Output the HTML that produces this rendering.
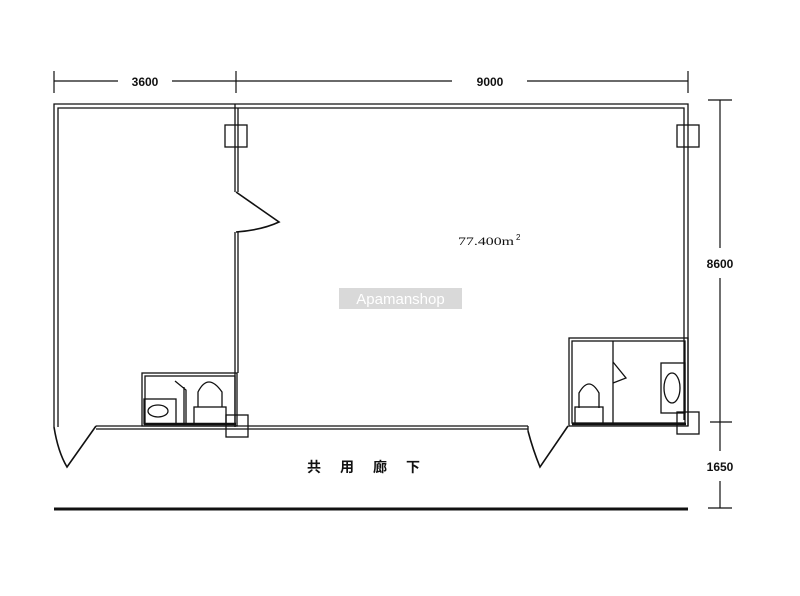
<!DOCTYPE html>
<html><head><meta charset="utf-8"><style>
body{margin:0;background:#fff;width:800px;height:596px;overflow:hidden}
svg{display:block}
text{font-family:"Liberation Sans","Noto Sans CJK JP",sans-serif;fill:#111}
</style></head><body>
<svg width="800" height="596" viewBox="0 0 800 596" xmlns="http://www.w3.org/2000/svg">
<g stroke="#111" fill="none" stroke-width="1.2">
<line x1="54" y1="81" x2="118" y2="81"/><line x1="172" y1="81" x2="236" y2="81"/>
<line x1="236" y1="81" x2="452" y2="81"/><line x1="527" y1="81" x2="688" y2="81"/>
<line x1="54" y1="71" x2="54" y2="93"/><line x1="236" y1="71" x2="236" y2="93"/><line x1="688" y1="71" x2="688" y2="93"/>
<line x1="720" y1="100" x2="720" y2="248"/><line x1="720" y1="278" x2="720" y2="451"/><line x1="720" y1="481" x2="720" y2="508"/>
<line x1="708" y1="100" x2="732" y2="100"/><line x1="710" y1="422" x2="732" y2="422"/><line x1="708" y1="508" x2="732" y2="508"/>
</g>
<g stroke="#111" fill="none" stroke-width="1.3">
<path d="M54,427 L54,104 L688,104 L688,340"/>
<path d="M58,427 L58,108 L684,108 L684,340"/>
<line x1="688" y1="340" x2="688" y2="426"/><line x1="684" y1="340" x2="684" y2="420"/>
<line x1="235" y1="104" x2="235" y2="192"/><line x1="238" y1="108" x2="238" y2="192"/>
<line x1="235" y1="232" x2="235" y2="427"/><line x1="238" y1="232" x2="238" y2="373"/>
<path d="M236,192 L279,222 Q262,230 236,232" stroke-width="1.6"/>
<line x1="96" y1="426" x2="528" y2="426"/><line x1="96" y1="429" x2="528" y2="429"/>
<line x1="528" y1="426" x2="528" y2="431"/>
<path d="M96,426 L67,467 Q58,452 54,427" stroke-width="1.6"/>
<path d="M568,426 L540,467 Q533,450 528,431" stroke-width="1.6"/>
<rect x="142" y="373" width="95" height="53"/><rect x="145" y="376" width="90" height="48"/>
<rect x="144" y="399" width="32" height="25"/>
<ellipse cx="158" cy="411" rx="10" ry="6"/>
<path d="M175,381 L186,390 L186,424 M184,387 L184,424"/>
<path d="M198,407 L198,392 Q208,372 222,392 L222,407"/>
<rect x="194" y="407" width="32" height="17"/>
<line x1="144" y1="424" x2="236" y2="424" stroke-width="2.5"/>
<rect x="569" y="338" width="119" height="88"/><rect x="572" y="341" width="113" height="82"/>
<line x1="613" y1="341" x2="613" y2="424"/>
<path d="M613,362 L626,378 L613,383"/>
<path d="M579,408 L579,393 Q589,375 599,393 L599,408"/>
<rect x="575" y="407" width="28" height="17"/>
<rect x="661" y="363" width="24" height="50"/>
<ellipse cx="672" cy="388" rx="8" ry="15"/>
<line x1="572" y1="424" x2="686" y2="424" stroke-width="2.5"/>
<rect x="225" y="125" width="22" height="22"/><rect x="677" y="125" width="22" height="22"/>
<rect x="226" y="415" width="22" height="22"/><rect x="677" y="412" width="22" height="22"/>
</g>
<line x1="54" y1="509" x2="688" y2="509" stroke="#111" stroke-width="3"/>
<rect x="339" y="288" width="123" height="21" fill="#d9d9d9"/>
<text x="400.5" y="304" font-size="15" text-anchor="middle" style="fill:#fff">Apamanshop</text>
<text x="145" y="86" font-size="12" font-weight="bold" text-anchor="middle">3600</text>
<text x="490" y="86" font-size="12" font-weight="bold" text-anchor="middle">9000</text>
<text x="720" y="268" font-size="12" font-weight="bold" text-anchor="middle">8600</text>
<text x="720" y="471" font-size="12" font-weight="bold" text-anchor="middle">1650</text>
<text x="458" y="245" font-size="12" textLength="56" lengthAdjust="spacingAndGlyphs" style="font-family:'Liberation Serif',serif">77.400m</text>
<text x="516" y="240" font-size="8">2</text>
<text x="307" y="472" font-size="14" font-weight="bold" letter-spacing="19">共用廊下</text>
</svg>
</body></html>
